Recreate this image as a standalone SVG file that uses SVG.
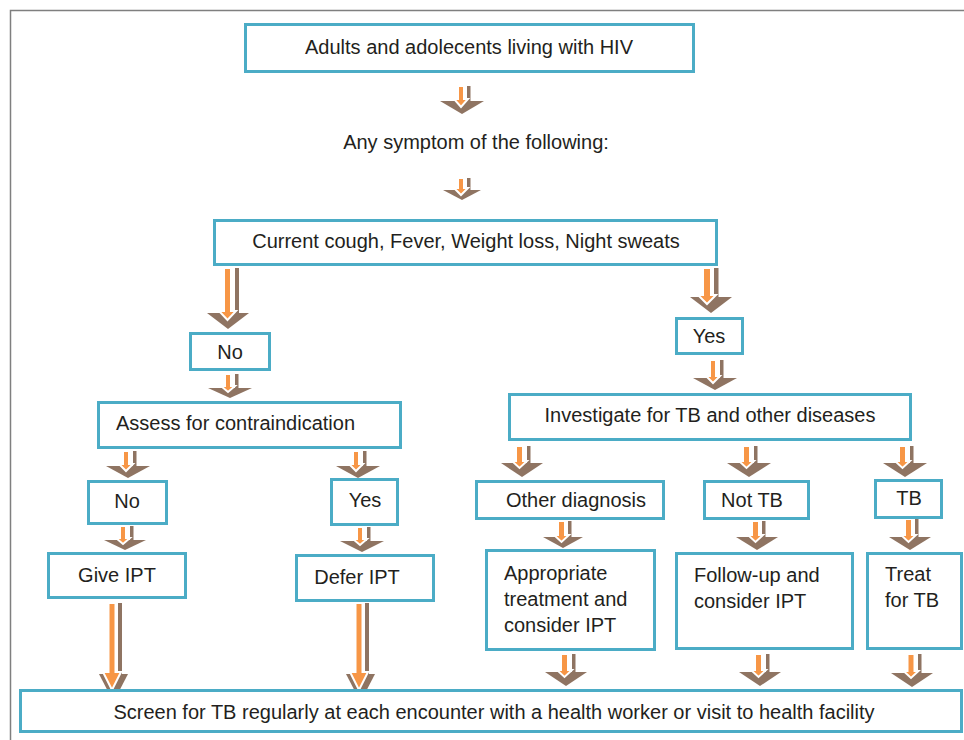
<svg xmlns="http://www.w3.org/2000/svg" width="964" height="740" viewBox="0 0 964 740">
<style>
.frame{fill:none;stroke:#7f7f7f;stroke-width:1.5}
.box{fill:#fff;stroke:#4bacc6;stroke-width:3}
text{font-family:"Liberation Sans",Arial,sans-serif;font-size:20px;fill:#231f20}
.c{text-anchor:middle}
.bs,.bh{fill:#8f7462}
.or{fill:#f79646;stroke:#fff;stroke-width:2;stroke-linejoin:miter}
</style>
<rect width="964" height="740" fill="#fff"/>
<path class="frame" d="M10.5 740 V10.5 H964"/>
<g id="connectors">
<g><rect class="bs" x="467" y="86" width="3.5" height="17"/><polygon class="bh" points="440,101 484,101 462,114"/><polygon class="or" points="458,86 464,86 464,99 468,99 461,107 454,99 458,99"/></g>
<g><rect class="bs" x="467" y="178" width="3.5" height="14"/><polygon class="bh" points="443,190 481,190 462,200"/><polygon class="or" points="458,178 464,178 464,188 468,188 461,195 454,188 458,188"/></g>
<g><rect class="bs" x="235" y="268" width="4" height="47"/><polygon class="bh" points="207,313 249,313 228,329"/><polygon class="or" points="224,268 231,268 231,311 236,311 227.5,320 219,311 224,311"/></g>
<g><rect class="bs" x="714" y="268" width="4.5" height="31"/><polygon class="bh" points="690,297 732,297 711,313"/><polygon class="or" points="703,268 711,268 711,295 716,295 707,304 698,295 703,295"/></g>
<g><rect class="bs" x="235" y="374" width="3.5" height="16"/><polygon class="bh" points="208,388 252,388 230,398"/><polygon class="or" points="225,374 231,374 231,386 235,386 228,392 221,386 225,386"/></g>
<g><rect class="bs" x="720" y="360" width="3.5" height="20"/><polygon class="bh" points="693,378 737,378 715,390"/><polygon class="or" points="710,360 716,360 716,376 720,376 713,383 706,376 710,376"/></g>
<g><rect class="bs" x="133" y="451" width="3.5" height="17"/><polygon class="bh" points="106,466 150,466 128,478"/><polygon class="or" points="123,451 129,451 129,464 133,464 126,471 119,464 123,464"/></g>
<g><rect class="bs" x="363" y="451" width="3.5" height="17"/><polygon class="bh" points="336,466 380,466 358,478"/><polygon class="or" points="353,451 359,451 359,464 363,464 356,471 349,464 353,464"/></g>
<g><rect class="bs" x="527" y="446" width="3.5" height="19"/><polygon class="bh" points="501,463 543,463 522,477"/><polygon class="or" points="516,446 523,446 523,461 527,461 519.5,468 512,461 516,461"/></g>
<g><rect class="bs" x="754" y="446" width="3.5" height="19"/><polygon class="bh" points="727,463 771,463 749,477"/><polygon class="or" points="743,446 750,446 750,461 754,461 746.5,468 739,461 743,461"/></g>
<g><rect class="bs" x="910" y="446" width="3.5" height="19"/><polygon class="bh" points="883,463 927,463 905,477"/><polygon class="or" points="899,446 906,446 906,461 910,461 902.5,468 895,461 899,461"/></g>
<g><rect class="bs" x="130" y="526" width="3.5" height="16"/><polygon class="bh" points="104,540 146,540 125,550"/><polygon class="or" points="120,526 126,526 126,538 130,538 123,544 116,538 120,538"/></g>
<g><rect class="bs" x="367" y="527" width="3.5" height="16"/><polygon class="bh" points="340,541 384,541 362,552"/><polygon class="or" points="357,527 363,527 363,539 367,539 360,545 353,539 357,539"/></g>
<g><rect class="bs" x="568" y="521" width="3.5" height="18"/><polygon class="bh" points="543,537 583,537 563,548"/><polygon class="or" points="558,521 565,521 565,535 569,535 561.5,542 554,535 558,535"/></g>
<g><rect class="bs" x="762" y="521" width="3.5" height="18"/><polygon class="bh" points="736,537 778,537 757,550"/><polygon class="or" points="752,521 759,521 759,535 763,535 755.5,542 748,535 752,535"/></g>
<g><rect class="bs" x="915" y="519" width="3.5" height="20"/><polygon class="bh" points="889,537 931,537 910,550"/><polygon class="or" points="905,519 912,519 912,535 916,535 908.5,542 901,535 905,535"/></g>
<g><rect class="bs" x="118" y="603" width="4" height="73"/><polygon class="bh" points="99,674 128,674 113.5,702"/><polygon class="or" points="108.5,603 115.5,603 115.5,672 121,672 112,690 103,672 108.5,672"/></g>
<g><rect class="bs" x="365" y="603" width="4" height="73"/><polygon class="bh" points="346,674 375,674 360.5,702"/><polygon class="or" points="355.5,603 362.5,603 362.5,672 368,672 359,690 350,672 355.5,672"/></g>
<g><rect class="bs" x="572" y="654" width="3.5" height="20"/><polygon class="bh" points="545,672 587,672 566,686"/><polygon class="or" points="561,654 568,654 568,670 572,670 564.5,677 557,670 561,670"/></g>
<g><rect class="bs" x="766" y="654" width="3.5" height="20"/><polygon class="bh" points="739,672 781,672 760,686"/><polygon class="or" points="755,654 762,654 762,670 766,670 758.5,677 751,670 755,670"/></g>
<g><rect class="bs" x="918" y="654" width="3.5" height="21"/><polygon class="bh" points="891,673 933,673 912,687"/><polygon class="or" points="907.5,654 914.5,654 914.5,671 918.5,671 911,678 903.5,671 907.5,671"/></g>
</g>
<g id="n-adults"><rect class="box" x="245.5" y="24.5" width="448" height="47"/><text class="c" x="469" y="54">Adults and adolecents living with HIV</text></g>
<g id="n-any"><text class="c" x="476" y="149">Any symptom of the following:</text></g>
<g id="n-symptoms"><rect class="box" x="214.5" y="220.5" width="502" height="44"/><text class="c" x="466" y="248">Current cough, Fever, Weight loss, Night sweats</text></g>
<g id="n-no1"><rect class="box" x="190.5" y="333.5" width="79" height="36"/><text class="c" x="230" y="359">No</text></g>
<g id="n-yes1"><rect class="box" x="676.5" y="318.5" width="66" height="35"/><text class="c" x="709" y="343">Yes</text></g>
<g id="n-assess"><rect class="box" x="98.5" y="402.5" width="302" height="45"/><text x="116" y="430">Assess for contraindication</text></g>
<g id="n-investigate"><rect class="box" x="509.5" y="394.5" width="401" height="45"/><text class="c" x="710" y="422">Investigate for TB and other diseases</text></g>
<g id="n-no2"><rect class="box" x="88.5" y="481.5" width="78" height="42"/><text class="c" x="127" y="508">No</text></g>
<g id="n-yes2"><rect class="box" x="331.5" y="479.5" width="66" height="45"/><text class="c" x="365" y="507">Yes</text></g>
<g id="n-other"><rect class="box" x="476.5" y="481.5" width="187" height="37"/><text class="c" x="576" y="507">Other diagnosis</text></g>
<g id="n-nottb"><rect class="box" x="704.5" y="481.5" width="104" height="37"/><text class="c" x="752" y="507">Not TB</text></g>
<g id="n-tb"><rect class="box" x="875.5" y="480.5" width="66" height="37"/><text class="c" x="909" y="505">TB</text></g>
<g id="n-give"><rect class="box" x="48.5" y="553.5" width="137" height="44"/><text class="c" x="117" y="582">Give IPT</text></g>
<g id="n-defer"><rect class="box" x="296.5" y="555.5" width="137" height="45"/><text class="c" x="357" y="584">Defer IPT</text></g>
<g id="n-appropriate"><rect class="box" x="486.5" y="550.5" width="168" height="99"/><text x="504" y="580">Appropriate</text><text x="504" y="606">treatment and</text><text x="504" y="632">consider IPT</text></g>
<g id="n-followup"><rect class="box" x="676.5" y="553.5" width="176" height="95"/><text x="694" y="582">Follow-up and</text><text x="694" y="608">consider IPT</text></g>
<g id="n-treat"><rect class="box" x="867.5" y="553.5" width="94" height="95"/><text x="885" y="581">Treat</text><text x="885" y="607">for TB</text></g>
<g id="n-screen"><rect class="box" x="20.5" y="690.5" width="941" height="41"/><text class="c" x="494" y="719">Screen for TB regularly at each encounter with a health worker or visit to health facility</text></g>
</svg>
